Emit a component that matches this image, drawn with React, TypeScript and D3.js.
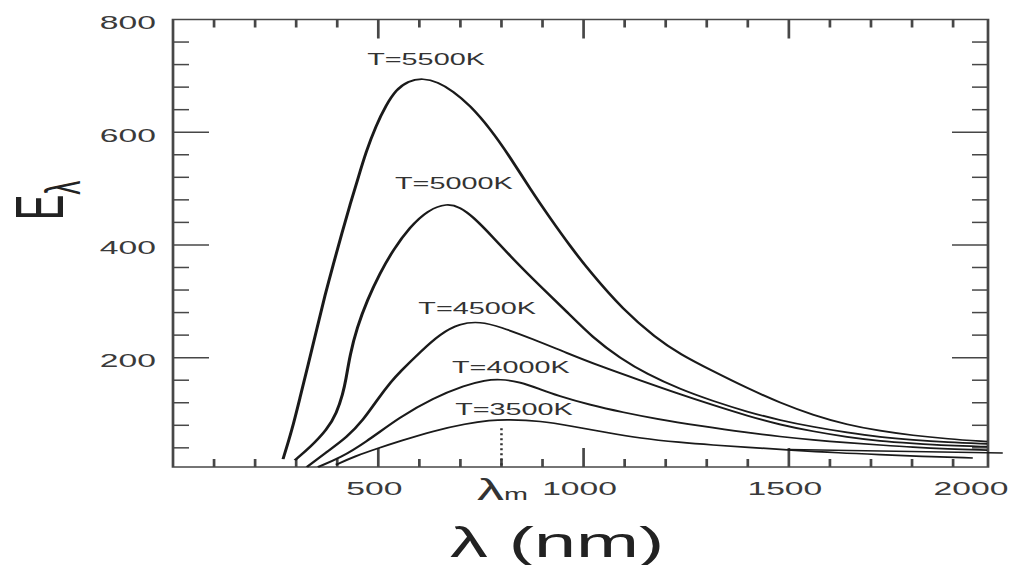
import React from "react";
import * as d3 from "d3";

// ---- data (wavelength nm, E_lambda) ----
const temps = ["T=5500K", "T=5000K", "T=4500K", "T=4000K", "T=3500K"];

const T5500: [number, number][] = [
  [268, 20], [290, 72], [309, 128], [329, 187], [351, 253], [370, 311], [390, 364],
  [412, 423], [431, 471], [451, 519], [470, 565], [494, 611], [519, 648], [543, 675],
  [572, 691], [609, 696], [645, 689], [682, 673], [723, 648], [772, 607], [821, 556],
  [870, 499], [918, 448], [967, 398], [1016, 352], [1096, 285], [1176, 235], [1235, 206],
  [1315, 176], [1398, 146], [1478, 120], [1559, 98], [1642, 81], [1722, 70], [1802, 62],
  [1885, 56], [1983, 51],
];
const T5000: [number, number][] = [
  [297, 18], [334, 41], [375, 72], [399, 102], [414, 137], [421, 160], [431, 205],
  [448, 253], [473, 302], [504, 350], [536, 391], [577, 432], [621, 462], [667, 474],
  [699, 467], [731, 450], [779, 414], [828, 375], [894, 327], [960, 281], [1023, 235],
  [1089, 199], [1154, 171], [1235, 144], [1315, 123], [1398, 104], [1478, 89], [1559, 77],
  [1642, 67], [1722, 59], [1802, 54], [1885, 50], [1983, 47],
];
const T4500: [number, number][] = [
  [326, 6], [375, 33], [424, 59], [463, 89], [497, 125], [533, 159], [553, 175],
  [602, 210], [650, 242], [699, 261], [748, 264], [796, 255], [877, 233], [960, 208],
  [1040, 185], [1137, 160], [1235, 135], [1315, 116], [1398, 97], [1478, 81], [1559, 69],
  [1642, 59], [1722, 52], [1802, 48], [1885, 44], [1983, 42],
];
const T4000: [number, number][] = [
  [353, 6], [407, 22], [468, 49], [553, 95], [633, 128], [711, 151], [760, 160],
  [796, 162], [845, 157], [894, 144], [935, 133], [1016, 116], [1096, 103], [1179, 91],
  [1284, 79], [1398, 67], [1478, 60], [1559, 54], [1642, 49], [1722, 45], [1802, 41],
  [1885, 38], [1983, 36],
];
const T3500: [number, number][] = [
  [397, 10], [443, 25], [502, 40], [553, 52], [633, 70], [714, 83], [772, 89],
  [816, 90], [894, 88], [974, 78], [1057, 67], [1137, 57], [1235, 49.5], [1315, 45],
  [1398, 41], [1503, 36], [1625, 31], [1722, 28], [1819, 25], [1948, 22],
];
const tailLine: [number, number][] = [[1500, 37], [2021, 31]];

const series = [T5500, T5000, T4500, T4000, T3500];

const xTickValues = [500, 1000, 1500, 2000];
const xTickLabels = ["500", "1000", "1500", "2000"];
const yTickValues = [200, 400, 600, 800];
const yTickLabels = ["200", "400", "600", "800"];
const lambdaM = 800;

// ---- layout (page pixels) ----
const SX = 1.8; // horizontal stretch of the whole figure
const labelOffsets: [number, number][] = [[3, -13], [7, -14], [-3, -8], [11, -6], [6, -4.5]];
const FONT = "'Liberation Sans', Arial, Helvetica, sans-serif";

export default function App() {
  const x0 = 173 / SX, x1 = 988 / SX, yTop = 19.5, yBot = 467;
  const x = d3.scaleLinear().domain([0, 1985]).range([x0, x1]);
  const y = d3.scaleLinear().domain([6, 800]).range([yBot, yTop]);
  const line = d3
    .line<[number, number]>()
    .x((d) => x(d[0]))
    .y((d) => y(d[1]))
    .curve(d3.curveBasis);
  const straight = d3
    .line<[number, number]>()
    .x((d) => x(d[0]))
    .y((d) => y(d[1]));

  const minorX = d3.range(100, 1985, 100);
  const minorY = d3.range(40, 800, 40);
  const axisColor = "#474747";
  const curveColor = "#1a1a1a";

  const peak3500 = d3.greatest(T3500, (d) => d[1])!;

  return (
    <svg
      width={1011}
      height={565}
      style={{ position: "absolute", left: 0, top: 0, background: "#fff" }}
    >
      <g transform={`scale(${SX},1)`}>
        {/* frame */}
        <rect x={x0} y={yTop} width={x1 - x0} height={yBot - yTop} fill="none" stroke={axisColor} strokeWidth={1.5} />
        {/* x ticks */}
        {minorX.map((v) => {
          const len = v % 500 === 0 ? 19 : 8;
          return (
            <g key={"xt" + v} stroke={axisColor} strokeWidth={1.5}>
              <line x1={x(v)} x2={x(v)} y1={yBot} y2={yBot - len} />
              <line x1={x(v)} x2={x(v)} y1={yTop} y2={yTop + len} />
            </g>
          );
        })}
        {/* y ticks */}
        {minorY.map((v) => {
          const len = (v % 200 === 0 ? 36 : 16) / SX;
          return (
            <g key={"yt" + v} stroke={axisColor} strokeWidth={1.5}>
              <line x1={x0} x2={x0 + len} y1={y(v)} y2={y(v)} />
              <line x1={x1} x2={x1 - len} y1={y(v)} y2={y(v)} />
            </g>
          );
        })}
        {/* tick labels */}
        {yTickValues.map((v, i) => (
          <text key={"yl" + v} x={156 / SX} y={y(v) + 9.5} textAnchor="end" fontFamily={FONT} fontSize={18.7} fill="#3a3a3a">
            {yTickLabels[i]}
          </text>
        ))}
        {xTickValues.map((v, i) => (
          <text key={"xl" + v} x={Math.min(x(v) - 4 / SX, 971 / SX)} y={495} textAnchor="middle" fontFamily={FONT} fontSize={18.7} fill="#3a3a3a">
            {xTickLabels[i]}
          </text>
        ))}
        {/* lambda_m marker */}
        <line
          x1={x(lambdaM)} x2={x(lambdaM)} y1={y(peak3500[1]) + 8.5} y2={yBot}
          stroke="#333" strokeWidth={1.4} strokeDasharray="2,3"
        />
        <text x={477 / SX} y={500} fontFamily={FONT} fontSize={30} fill="#333">
          λ<tspan fontSize={16}>m</tspan>
        </text>
        {/* curves */}
        {series.map((s, i) => (
          <path key={"c" + i} d={line(s) || ""} fill="none" stroke={curveColor} strokeWidth={1.7} />
        ))}
        <path d={straight(tailLine) || ""} fill="none" stroke={curveColor} strokeWidth={1.5} />
        {/* curve labels */}
        {series.map((s, i) => {
          const pk = d3.greatest(s, (d) => d[1])!;
          return (
            <text
              key={"tl" + i}
              x={x(pk[0]) + labelOffsets[i][0] / SX}
              y={y(pk[1]) + labelOffsets[i][1]}
              textAnchor="middle" fontFamily={FONT} fontSize={16} fill="#333"
            >
              {temps[i]}
            </text>
          );
        })}
        {/* axis titles */}
        <text x={450 / SX} y={557} fontFamily={FONT} fontSize={42} fill="#222">
          λ (nm)
        </text>
        <text transform={`translate(${63 / SX},220) rotate(-90)`} fontFamily={FONT} fontSize={38} fill="#222">
          E<tspan fontSize={28} dy={9.4}>λ</tspan>
        </text>
      </g>
    </svg>
  );
}
